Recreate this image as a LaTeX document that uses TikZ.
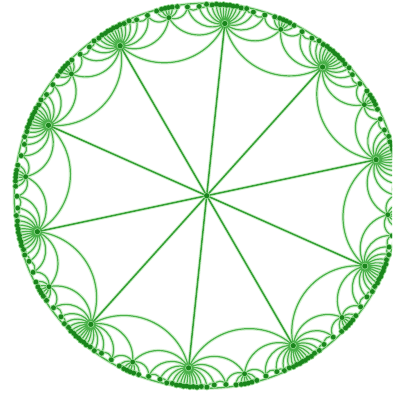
\documentclass[tikz,border=0pt]{standalone}
\definecolor{edgecol}{HTML}{4AB24A}
\definecolor{glowcol}{HTML}{D3EFCF}
\definecolor{spokecol}{HTML}{34A034}
\definecolor{dotcol}{HTML}{1A861C}
\definecolor{dothalo}{HTML}{95D891}
\tikzset{
  hedge/.style={draw=edgecol, line width=1.2pt},
  hglow/.style={draw=glowcol, line width=3.4pt},
  spoke/.style={draw=spokecol, line width=1.5pt},
  rim/.style={draw=edgecol, line width=1.3pt},
}
\makeatletter
\newcount\HYid
\def\HYR{192.5}
\def\HYeps{0.03}
\def\HYedgepath{}
\def\HYdotpath{}
\def\HYadd#1#2{\edef\HY@tmp{#2}\expandafter\g@addto@macro\expandafter#1\expandafter{\HY@tmp}}
% vertex: global id, named coordinate, dot stored for later
\def\HYvertex#1#2{%
  \global\advance\HYid\@ne
  \edef\HYname{n\the\HYid}%
  \edef\HY@x{\fpeval{round(\HYR*(#1),3)}}%
  \edef\HY@y{\fpeval{round(\HYR*(#2),3)}}%
  \coordinate (\HYname) at (\HY@x,\HY@y);
  \HYadd\HYdotpath{ (\HYname) circle[radius=\noexpand\HYdr]}%
}
% geodesic between named points #1 (#2,#3) and #4 (#5,#6)
\def\HYgeo#1#2#3#4#5#6{%
  \edef\G@psi{\fpeval{atand((#6)-(#3),(#5)-(#2))}}%
  \edef\G@L{\fpeval{sqrt(((#5)-(#2))^2+((#6)-(#3))^2)}}%
  \edef\G@d{\fpeval{atand((#2)*(#6)-(#3)*(#5),1-(#2)*(#5)-(#3)*(#6))}}%
  \edef\G@h{\fpeval{(\G@L)/(3*(cosd((\G@d)/2))^2)}}%
  \edef\G@ax{\fpeval{round(\HYR*((#2)+(\G@h)*cosd((\G@psi)+(\G@d))),3)}}%
  \edef\G@ay{\fpeval{round(\HYR*((#3)+(\G@h)*sind((\G@psi)+(\G@d))),3)}}%
  \edef\G@bx{\fpeval{round(\HYR*((#5)-(\G@h)*cosd((\G@psi)-(\G@d))),3)}}%
  \edef\G@by{\fpeval{round(\HYR*((#6)-(\G@h)*sind((\G@psi)-(\G@d))),3)}}%
  \HYadd\HYedgepath{ (#1) .. controls (\G@ax,\G@ay) and (\G@bx,\G@by) .. (#4)}%
}
% expand vertex: #1 name, #2 #3 position, #4 type (1=A deg10, 2=B deg20),
% #5 local angle of neighbour 0, #6 type of neighbour 0, #7 first, #8 last new index
\def\HYexpand#1#2#3#4#5#6#7#8{%
  \begingroup
  \edef\X@n{#1}\edef\X@a{#2}\edef\X@b{#3}\edef\X@t{#4}%
  \edef\X@phi{#5}\edef\X@tz{#6}\edef\X@ks{#7}\edef\X@ke{#8}\edef\X@k{#7}%
  \ifnum\X@t=1 \def\X@dg{10}\else\def\X@dg{20}\fi
  \HY@loop
  \endgroup}
\def\HY@loop{%
  \ifnum\X@k>\X@ke\relax
  \else
    \HY@step
    \edef\X@k{\the\numexpr\X@k+1\relax}%
    \expandafter\HY@loop
  \fi}
\def\HY@step{%
  \ifnum\X@t=1 \def\X@ct{2}\else
    \ifodd\X@k\relax
      \ifnum\X@tz=1 \def\X@ct{2}\else\def\X@ct{1}\fi
    \else
      \let\X@ct\X@tz
    \fi
  \fi
  \ifnum\X@t=1 \def\X@r{0.8994537}\else
    \ifnum\X@ct=1 \def\X@r{0.8994537}\else\def\X@r{0.9457416}\fi
  \fi
  \edef\X@th{\fpeval{(\X@phi)+(\X@k)*360/(\X@dg)}}%
  \edef\X@wu{\fpeval{(\X@r)*cosd(\X@th)}}%
  \edef\X@wv{\fpeval{(\X@r)*sind(\X@th)}}%
  \edef\X@dr{\fpeval{1+(\X@a)*(\X@wu)+(\X@b)*(\X@wv)}}%
  \edef\X@di{\fpeval{(\X@a)*(\X@wv)-(\X@b)*(\X@wu)}}%
  \edef\X@nn{\fpeval{(\X@dr)^2+(\X@di)^2}}%
  \edef\X@za{\fpeval{(((\X@wu)+(\X@a))*(\X@dr)+((\X@wv)+(\X@b))*(\X@di))/(\X@nn)}}%
  \edef\X@zb{\fpeval{(((\X@wv)+(\X@b))*(\X@dr)-((\X@wu)+(\X@a))*(\X@di))/(\X@nn)}}%
  \HYvertex{\X@za}{\X@zb}%
  \let\X@zn\HYname
  \HYgeo{\X@n}{\X@a}{\X@b}{\X@zn}{\X@za}{\X@zb}%
  \ifnum\X@k>\X@ks\relax
    \HYgeo{\X@pn}{\X@pa}{\X@pb}{\X@zn}{\X@za}{\X@zb}%
    \ifnum\fpeval{(1-sqrt((\X@za)^2+(\X@zb)^2))>\HYeps}=1\relax
      \edef\X@cphi{\fpeval{atand((\X@b)-(\X@zb),(\X@a)-(\X@za))+atand((\X@za)*(\X@b)-(\X@zb)*(\X@a),1-(\X@za)*(\X@a)-(\X@zb)*(\X@b))}}%
      \ifnum\X@ct=1 \def\X@cdg{10}\else\def\X@cdg{20}\fi
      \ifnum\X@k=\X@ke\relax
        \edef\X@cke{\the\numexpr\X@cdg-3\relax}%
      \else
        \edef\X@cke{\the\numexpr\X@cdg-2\relax}%
      \fi
      \edef\X@call{\noexpand\HYexpand{\X@zn}{\X@za}{\X@zb}{\X@ct}{\X@cphi}{\X@t}{2}{\X@cke}}%
      \X@call
    \fi
  \fi
  \let\X@pn\X@zn \let\X@pa\X@za \let\X@pb\X@zb
}
\makeatother
\begin{document}
\begin{tikzpicture}[x=1pt,y=1pt]
\useasboundingbox (0,0) rectangle (392,398);
\clip (0,0) rectangle (392,398);
\begin{scope}[shift={(206.7,202.3)}]
  \coordinate (c) at (0,0);
  % first ring
  \foreach \i in {0,...,9} {
    \edef\va{\fpeval{0.8994537*cosd(84-36*\i)}}
    \edef\vb{\fpeval{0.8994537*sind(84-36*\i)}}
    \coordinate (v\i) at (\fpeval{round(\HYR*(\va),3)},\fpeval{round(\HYR*(\vb),3)});
  }
  \foreach \i in {0,...,9} {
    \pgfmathtruncatemacro{\j}{mod(\i+1,10)}
    \edef\va{\fpeval{0.8994537*cosd(84-36*\i)}}
    \edef\vb{\fpeval{0.8994537*sind(84-36*\i)}}
    \edef\vc{\fpeval{0.8994537*cosd(84-36*\j)}}
    \edef\vd{\fpeval{0.8994537*sind(84-36*\j)}}
    \HYgeo{v\i}{\va}{\vb}{v\j}{\vc}{\vd}
    \edef\call{\noexpand\HYexpand{v\i}{\va}{\vb}{2}{\fpeval{264-36*\i}}{1}{2}{18}}
    \call
  }
  % glow underlay
  \draw[hglow] (0,0) circle[radius=\HYR];
  \foreach \i in {0,...,9} { \draw[hglow] (c) -- (v\i); }
  \edef\tmp{\noexpand\draw[hglow]\unexpanded\expandafter{\HYedgepath};}\tmp
  % lines
  \draw[rim] (0,0) circle[radius=\HYR];
  \edef\tmp{\noexpand\draw[hedge]\unexpanded\expandafter{\HYedgepath};}\tmp
  \foreach \i in {0,...,9} { \draw[spoke] (c) -- (v\i); }
  % vertices
  \def\HYdr{3.3pt}
  \edef\tmp{\noexpand\fill[dothalo]\unexpanded\expandafter{\HYdotpath};}\tmp
  \foreach \i in {0,...,9} { \fill[dothalo] (v\i) circle[radius=3.4pt]; }
  \fill[dothalo] (c) circle[radius=3.4pt];
  \def\HYdr{2.4pt}
  \edef\tmp{\noexpand\fill[dotcol]\unexpanded\expandafter{\HYdotpath};}\tmp
  \foreach \i in {0,...,9} { \fill[dotcol] (v\i) circle[radius=2.6pt]; }
  \fill[dotcol] (c) circle[radius=2.6pt];
\end{scope}
\end{tikzpicture}
\end{document}
